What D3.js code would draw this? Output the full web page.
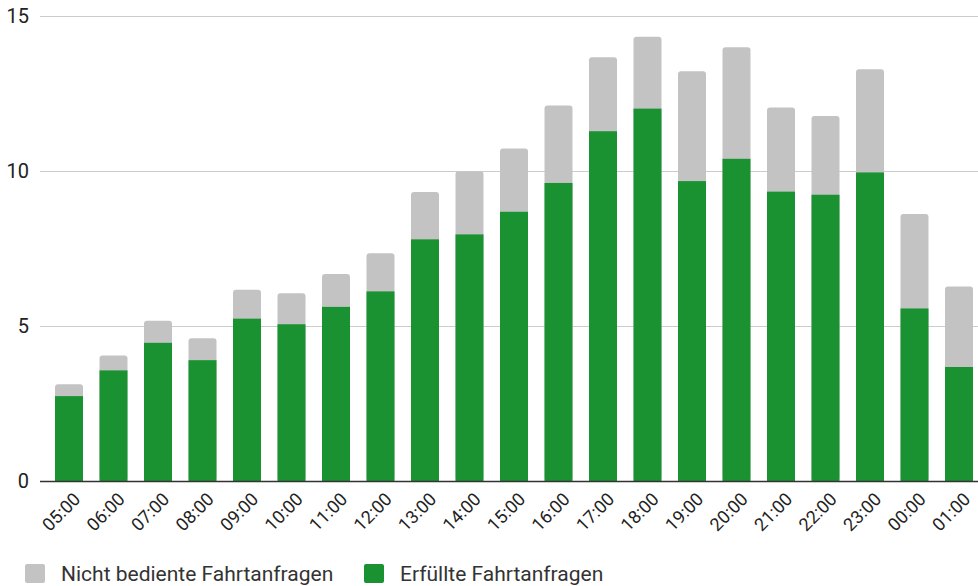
<!DOCTYPE html>
<html><head><meta charset="utf-8">
<script src="https://cdn.jsdelivr.net/npm/d3@7"></script>
<style>body{margin:0;background:#fff;}svg{display:block;font-family:Roboto,"Noto Sans",sans-serif;}</style>
</head><body><svg id="c" width="978" height="586"></svg>
<script>
const categories = ["05:00","06:00","07:00","08:00","09:00","10:00","11:00","12:00","13:00","14:00","15:00","16:00","17:00","18:00","19:00","20:00","21:00","22:00","23:00","00:00","01:00"];
const erfuellt = [2.74,3.57,4.46,3.90,5.24,5.06,5.62,6.12,7.80,7.96,8.69,9.62,11.29,12.02,9.68,10.40,9.34,9.24,9.96,5.57,3.68];
const nichtBedient = [0.38,0.48,0.71,0.71,0.93,1.00,1.06,1.23,1.53,2.04,2.04,2.50,2.39,2.32,3.55,3.60,2.72,2.54,3.33,3.05,2.60];
const yTicks = [0,5,10,15];
const seriesNames = ["Nicht bediente Fahrtanfragen","Erfüllte Fahrtanfragen"];
const colors = {gray:"#c3c3c3", green:"#1a9232"};

const svg = d3.select("#c");
const y = d3.scaleLinear().domain([0,15]).range([481,16.3]);
const x = d3.scaleBand().domain(categories).range([46.1,981.9]).paddingInner(0.371).paddingOuter(0.2);

// gridlines
svg.append("g").selectAll("line").data(yTicks.filter(d=>d>0)).join("line")
  .attr("x1",40).attr("x2",978).attr("y1",d=>Math.round(y(d))+0.5).attr("y2",d=>Math.round(y(d))+0.5)
  .attr("stroke","#cccccc").attr("stroke-width",1);

// y labels
svg.append("g").selectAll("text").data(yTicks).join("text")
  .attr("x",29).attr("y",d=>y(d)).attr("dy","0.35em").attr("text-anchor","end")
  .attr("font-size",20).attr("fill","#222").text(d=>d);

// bars
const g = svg.append("g");
categories.forEach((c,i)=>{
  const total = erfuellt[i]+nichtBedient[i];
  g.append("rect").attr("x",x(c)).attr("width",x.bandwidth())
    .attr("y",y(total)).attr("height",y(0)-y(total)).attr("rx",3).attr("fill",colors.gray);
  g.append("rect").attr("x",x(c)).attr("width",x.bandwidth())
    .attr("y",y(erfuellt[i])).attr("height",y(0)-y(erfuellt[i])).attr("fill",colors.green);
});

// baseline
svg.append("line").attr("x1",40).attr("x2",978).attr("y1",481.5).attr("y2",481.5)
  .attr("stroke","#333").attr("stroke-width",1.3);

// x labels
svg.append("g").selectAll("text").data(categories).join("text")
  .attr("transform",d=>`translate(${x(d)+x.bandwidth()/2+8},${496}) rotate(-45)`)
  .attr("text-anchor","end").attr("dy","0.35em")
  .attr("font-size",18).attr("fill","#222").text(d=>d);

// legend
const leg = svg.append("g");
const items = [{n:seriesNames[0],c:colors.gray,x:25,tx:61},{n:seriesNames[1],c:colors.green,x:364,tx:400}];
items.forEach(it=>{
  leg.append("rect").attr("x",it.x).attr("y",564).attr("width",20).attr("height",19).attr("rx",2).attr("fill",it.c);
  leg.append("text").attr("x",it.tx).attr("y",581).attr("font-size",21).attr("fill","#333").text(it.n);
});
</script></body></html>
